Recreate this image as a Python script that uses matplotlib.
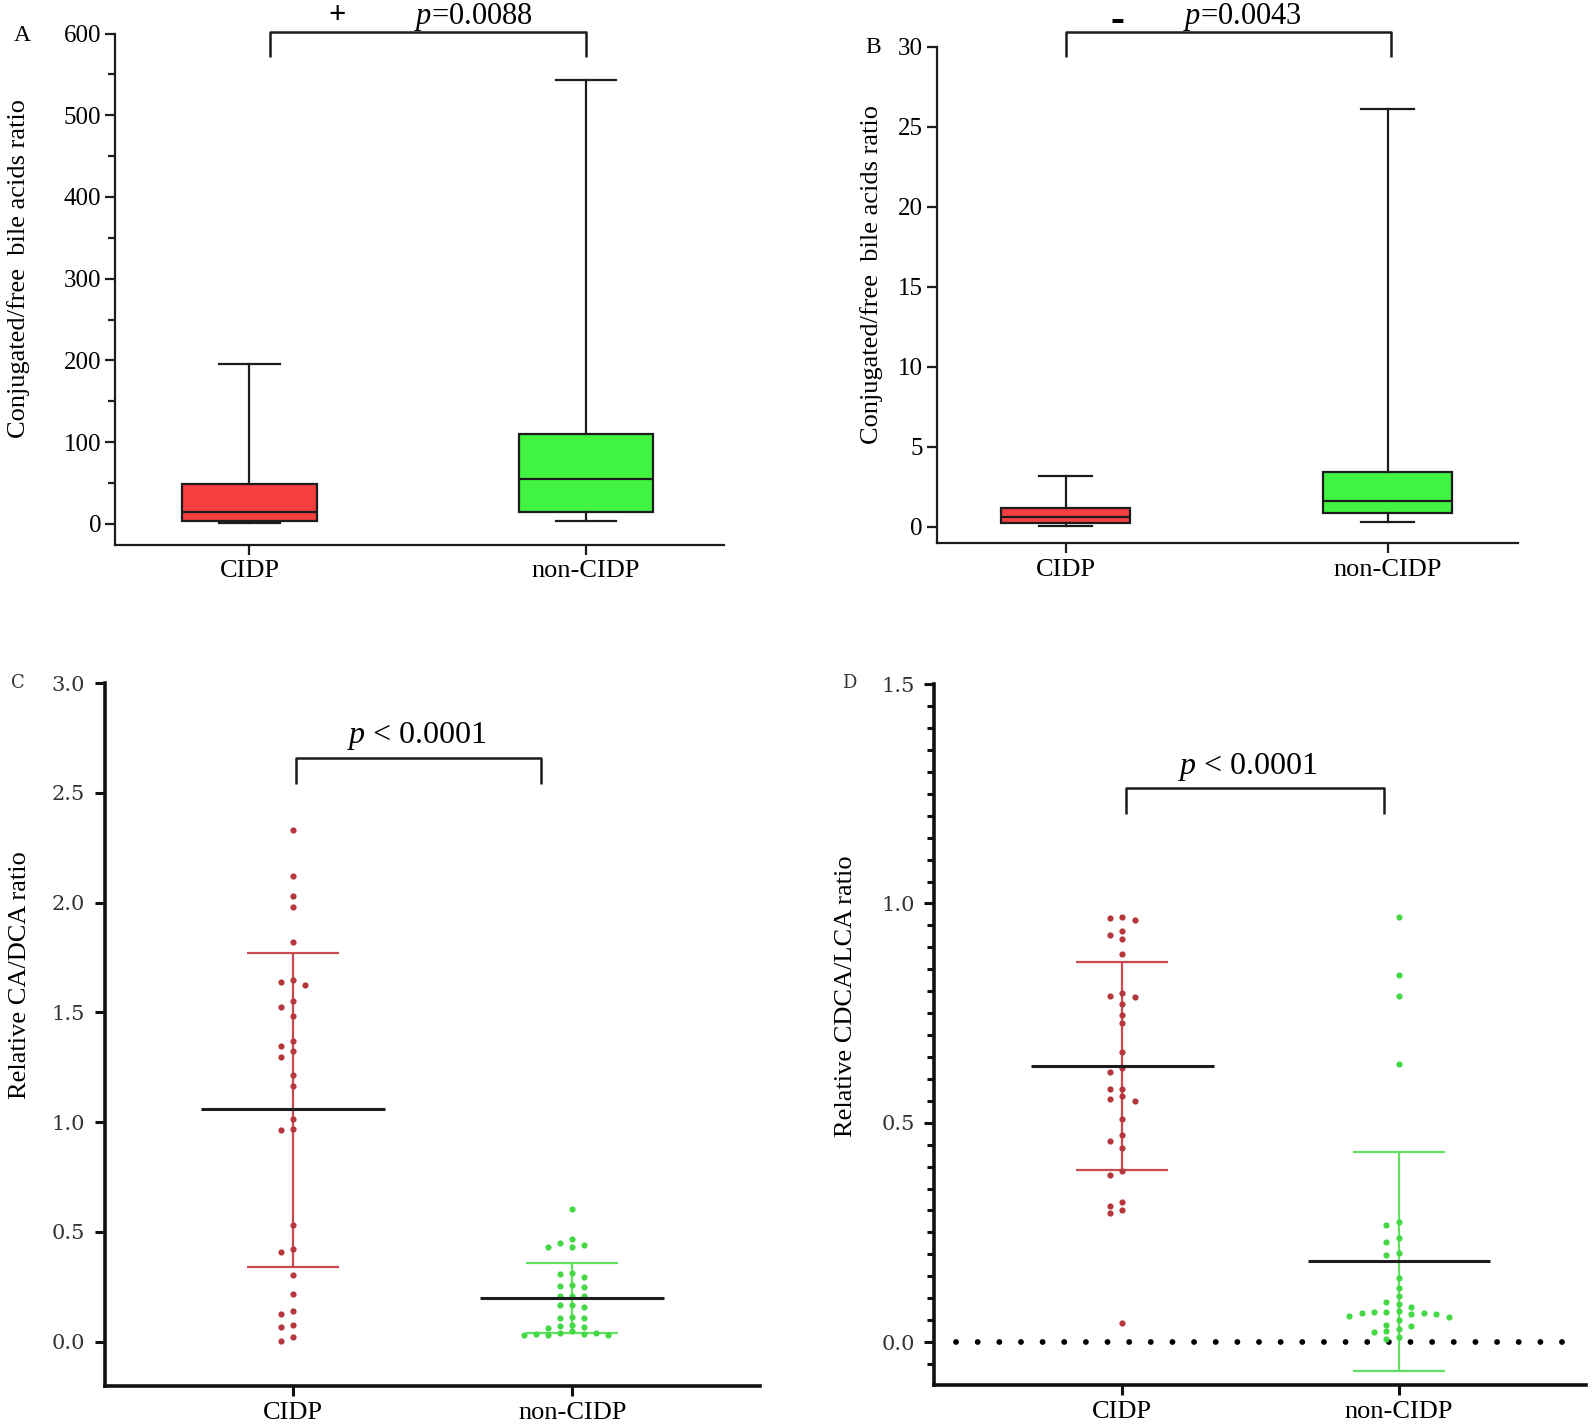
import numpy as np
import matplotlib
matplotlib.use("Agg")
import matplotlib.pyplot as plt
from matplotlib.ticker import MultipleLocator

plt.rcParams["font.family"] = ["Liberation Serif", "DejaVu Serif"]
plt.rcParams["mathtext.fontset"] = "custom"
plt.rcParams["mathtext.rm"] = "Liberation Serif"
plt.rcParams["mathtext.it"] = "Liberation Serif:italic"

groups = ["CIDP", "non-CIDP"]

# -----------------------------
# data
# -----------------------------
# panel A - conjugated/free ratio (box: whisker low, q1, median, q3, whisker high)
a_low = [0.5, 3]
a_q1 = [4, 15]
a_med = [15, 55]
a_q3 = [49, 110]
a_high = [195, 543]

# panel B - same ratio, other cohort
b_low = [0.05, 0.3]
b_q1 = [0.23, 0.88]
b_med = [0.58, 1.62]
b_q3 = [1.16, 3.42]
b_high = [3.19, 26.1]

# panel C - relative CA/DCA ratio (individual points, mean, mean +/- SD)
c_cidp = [2.33, 2.12, 2.03, 1.98, 1.82, 1.648, 1.64, 1.624, 1.55, 1.526, 1.482,
          1.372, 1.347, 1.323, 1.299, 1.214, 1.164, 1.014, 0.969, 0.966, 0.53,
          0.424, 0.408, 0.304, 0.215, 0.14, 0.124, 0.075, 0.069, 0.023, 0.002]
c_non = [0.606, 0.469, 0.45, 0.44, 0.433, 0.433, 0.312, 0.307, 0.294, 0.259,
         0.254, 0.248, 0.209, 0.209, 0.206, 0.168, 0.165, 0.156, 0.111, 0.108,
         0.108, 0.077, 0.07, 0.067, 0.062, 0.047, 0.04, 0.04, 0.036, 0.036,
         0.029, 0.029, 0.029]
c_mean = [1.06, 0.20]
c_sd_low = [0.34, 0.04]
c_sd_high = [1.77, 0.36]

# panel D - relative CDCA/LCA ratio
d_cidp = [0.969, 0.967, 0.962, 0.937, 0.927, 0.92, 0.885, 0.795, 0.789, 0.786,
          0.771, 0.745, 0.728, 0.661, 0.625, 0.615, 0.578, 0.578, 0.56, 0.555,
          0.549, 0.509, 0.471, 0.458, 0.443, 0.389, 0.382, 0.319, 0.31, 0.302,
          0.294, 0.044]
d_non = [0.969, 0.836, 0.788, 0.635, 0.274, 0.266, 0.238, 0.228, 0.203, 0.198,
         0.146, 0.124, 0.105, 0.091, 0.086, 0.08, 0.07, 0.069, 0.069, 0.067,
         0.067, 0.065, 0.063, 0.059, 0.057, 0.05, 0.04, 0.036, 0.029, 0.025,
         0.022, 0.011, 0.007]
d_mean = [0.63, 0.185]
d_sd_low = [0.392, -0.065]
d_sd_high = [0.867, 0.434]

box_colors = ["#f53f3f", "#42f442"]
dot_colors = ["#b5363c", "#45d845"]
bar_colors = ["#c94a4e", "#62e062"]
dark = "#1c1c1c"


def swarm_offsets(values, step, min_dy):
    # simple deterministic column placement, like a GraphPad scatter
    placed = []
    offs = []
    for v in values:
        for k in [0, -1, 1, -2, 2, -3, 3, -4, 4]:
            if all(not (s == k and abs(v - pv) < min_dy) for pv, s in placed):
                break
        placed.append((v, k))
        offs.append(k * step)
    return np.array(offs)


def bracket(ax, x0, x1, y_top, y_bot, lw):
    ax.plot([x0, x0, x1, x1], [y_bot, y_top, y_top, y_bot], color=dark,
            lw=lw, clip_on=False, solid_capstyle="butt")


fig = plt.figure(figsize=(15.94, 14.28), dpi=100)


# -----------------------------
# A / B - box plots
# -----------------------------
def box_panel(rect, low, q1, med, q3, high, xlim, ylim, yticks, minor, width, capw):
    ax = fig.add_axes(rect)
    stats = []
    for i in range(2):
        stats.append(dict(whislo=low[i], q1=q1[i], med=med[i], q3=q3[i],
                          whishi=high[i], fliers=[]))
    bp = ax.bxp(stats, positions=[0, 1], widths=width, capwidths=capw,
                patch_artist=True, showfliers=False,
                boxprops=dict(linewidth=1.6, edgecolor=dark),
                whiskerprops=dict(linewidth=1.6, color=dark),
                capprops=dict(linewidth=1.6, color=dark),
                medianprops=dict(linewidth=1.6, color=dark))
    for patch, col in zip(bp["boxes"], box_colors):
        patch.set_facecolor(col)
    ax.set_xlim(*xlim)
    ax.set_ylim(*ylim)
    ax.set_yticks(yticks)
    if minor:
        ax.yaxis.set_minor_locator(MultipleLocator(minor))
    ax.set_xticks([0, 1], groups)
    for s in ["top", "right"]:
        ax.spines[s].set_visible(False)
    for s in ["left", "bottom"]:
        ax.spines[s].set_linewidth(1.6)
        ax.spines[s].set_color(dark)
    ax.tick_params(axis="both", which="major", length=7, width=1.6, color=dark)
    ax.tick_params(axis="y", which="minor", length=5, width=1.6, color=dark)
    ax.tick_params(axis="y", labelsize=18, pad=3)
    ax.tick_params(axis="x", labelsize=19, pad=4)
    ax.set_ylabel("Conjugated/free  bile acids ratio", fontsize=19)
    return ax


ax_a = box_panel([0.0721, 0.6183, 0.382, 0.3582], a_low, a_q1, a_med, a_q3, a_high,
                 (-0.40, 1.41), (-26, 600), np.arange(0, 601, 100), 50, 0.40, 0.18)
ax_a.yaxis.set_label_coords(-0.139, 0.54)
bracket(ax_a, 0.06, 1.0, 602, 571, 1.8)
ax_a.text(0.26, 613, "+", fontsize=22, ha="center", va="baseline", fontweight="bold")
ax_a.text(0.665, 612, "$p$=0.0088", fontsize=22, ha="center", va="baseline")

ax_b = box_panel([0.5876, 0.6195, 0.3647, 0.3478], b_low, b_q1, b_med, b_q3, b_high,
                 (-0.40, 1.404), (-1.04, 30), np.arange(0, 31, 5), None, 0.40, 0.165)
ax_b.yaxis.set_label_coords(-0.093, 0.541)
bracket(ax_b, 0.0, 1.01, 30.9, 29.34, 1.8)
ax_b.text(0.16, 31.6, "-", fontsize=30, ha="center", va="center", fontweight="bold")
ax_b.text(0.55, 31.4, "$p$=0.0043", fontsize=22, ha="center", va="baseline")

fig.text(0.014, 0.975, "A", fontsize=17, ha="center", va="center")
fig.text(0.5477, 0.9664, "B", fontsize=17, ha="center", va="center")


# -----------------------------
# C / D - scatter with mean and SD
# -----------------------------
def dot_panel(rect, data, mean, sd_low, sd_high, xlim, ylim, yticks, minor, step, min_dy, label):
    ax = fig.add_axes(rect)
    for i, vals in enumerate(data):
        vals = np.array(vals)
        offs = swarm_offsets(vals, step, min_dy)
        ax.errorbar(i, mean[i], yerr=[[mean[i] - sd_low[i]], [sd_high[i] - mean[i]]],
                    fmt="none", ecolor=bar_colors[i], elinewidth=1.6, capsize=33,
                    capthick=1.6, zorder=2)
        ax.scatter(i + offs, vals, s=20, color=dot_colors[i], linewidths=0, zorder=3)
        ax.hlines(mean[i], i - 0.33, i + 0.33, color=dark, lw=2.2, zorder=4)
    ax.set_xlim(*xlim)
    ax.set_ylim(*ylim)
    ax.set_yticks(yticks, ["%.1f" % t for t in yticks], fontfamily="DejaVu Serif",
                  fontsize=15, color="#333333")
    if minor:
        ax.yaxis.set_minor_locator(MultipleLocator(minor))
    ax.set_xticks([0, 1], groups)
    for s in ["top", "right"]:
        ax.spines[s].set_visible(False)
    for s in ["left", "bottom"]:
        ax.spines[s].set_linewidth(2.6)
        ax.spines[s].set_color("#111111")
    ax.tick_params(axis="both", which="major", length=7, width=2.2, color="#111111")
    ax.tick_params(axis="y", which="minor", length=5, width=2.2, color="#111111")
    ax.tick_params(axis="y", pad=7)
    ax.tick_params(axis="x", labelsize=19, pad=5)
    ax.set_ylabel(label, fontsize=19)
    return ax


ax_c = dot_panel([0.0657, 0.0297, 0.4113, 0.4919], [c_cidp, c_non], c_mean, c_sd_low,
                 c_sd_high, (-0.673, 1.673), (-0.2, 3.0), np.arange(0, 3.01, 0.5), None,
                 0.043, 0.03, "Relative CA/DCA ratio")
ax_c.yaxis.set_label_coords(-0.112, 0.585)
bracket(ax_c, 0.01, 0.887, 2.657, 2.54, 1.8)
ax_c.text(0.444, 2.76, "$p$ < 0.0001", fontsize=23, ha="center", va="center")

ax_d = dot_panel([0.5861, 0.0304, 0.4088, 0.4905], [d_cidp, d_non], d_mean, d_sd_low,
                 d_sd_high, (-0.68, 1.676), (-0.097, 1.5), np.arange(0, 1.51, 0.5), 0.05,
                 0.045, 0.015, "Relative CDCA/LCA ratio")
ax_d.yaxis.set_label_coords(-0.119, 0.555)
ax_d.axhline(0, xmin=0.033, xmax=0.977, color="black", lw=4.2,
             linestyle=(0, (0.01, 3.7)), dash_capstyle="round", zorder=1)
bracket(ax_d, 0.015, 0.945, 1.264, 1.203, 1.8)
ax_d.text(0.456, 1.31, "$p$ < 0.0001", fontsize=23, ha="center", va="center")

fig.text(0.0115, 0.5217, "C", fontsize=13, ha="center", va="center",
         family="DejaVu Serif", color="#333333")
fig.text(0.533, 0.5217, "D", fontsize=13, ha="center", va="center",
         family="DejaVu Serif", color="#333333")

plt.savefig("out.png", dpi=100)
